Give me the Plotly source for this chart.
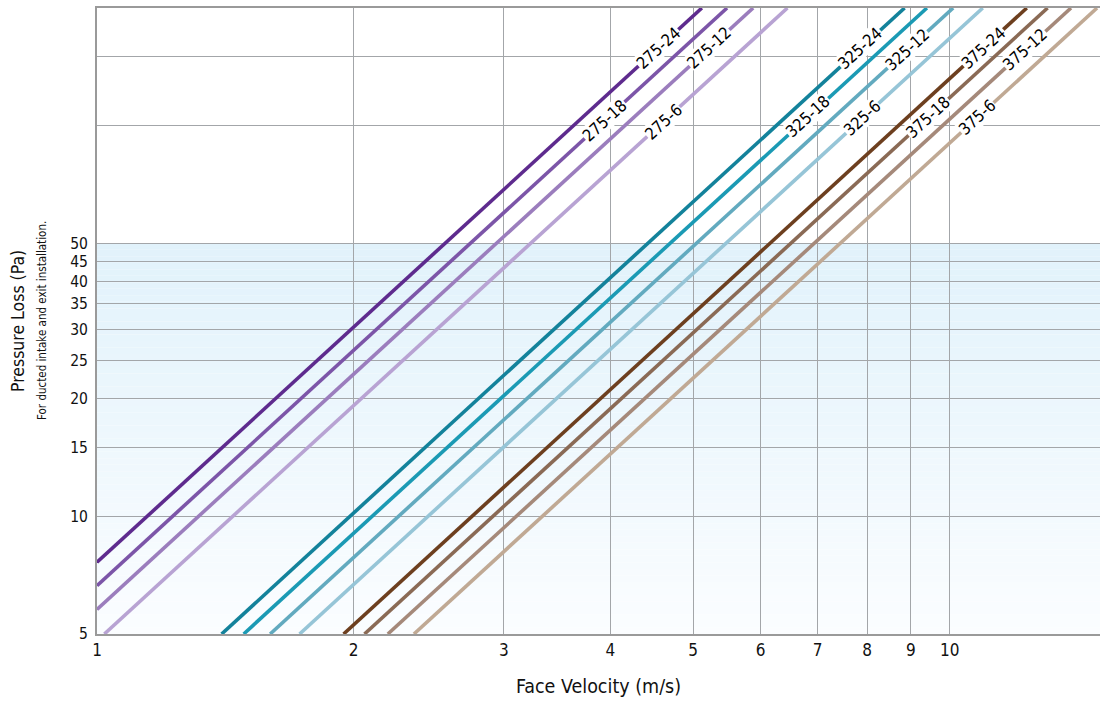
import math
import plotly.graph_objects as go

# ---- data (velocity m/s, pressure Pa) ----
series_names = ["275-24", "275-18", "275-12", "275-6",
                "325-24", "325-18", "325-12", "325-6",
                "375-24", "375-18", "375-12", "375-6"]
v_start = [1.0, 1.0, 1.0, 1.02, 1.40, 1.486, 1.596, 1.728, 1.946, 2.059, 2.193, 2.353]
p_start = [7.63, 6.65, 5.78, 5.0, 5.0, 5.0, 5.0, 5.0, 5.0, 5.0, 5.0, 5.0]
v_end = [5.12, 5.48, 5.88, 6.45, 8.85, 9.40, 10.09, 10.93, 12.31, 13.02, 13.87, 14.88]
p_end = [200, 200, 200, 200, 200, 200, 200, 200, 200, 200, 200, 200]
label_v = [4.55, 3.94, 5.23, 4.61, 7.85, 6.82, 8.93, 7.89, 10.94, 9.43, 12.26, 10.77]

colors = ["#5e2b8e", "#7c55a8", "#9b7dbd", "#b8a3d3",
          "#13829b", "#1b9ab4", "#62aabf", "#96c5d7",
          "#6d3f1f", "#8a6a55", "#a5897a", "#c0a994"]

x_ticks = [1, 2, 3, 4, 5, 6, 7, 8, 9, 10]
y_ticks = [5, 10, 15, 20, 25, 30, 35, 40, 45, 50, 100, 150]
y_ticktext = ["5", "10", "15", "20", "25", "30", "35", "40", "45", "50", "", ""]

x_range = [1, 15]
y_range = [5, 200]
shade_range = [5, 50]

W, H = 1100, 702
ML, MR, MT, MB = 97, 0, 8, 68
FONT = "DejaVu Sans Condensed, Liberation Sans Narrow, Arial Narrow, sans-serif"

def fnt(size, color="#111"):
    return dict(family=FONT, size=size, color=color)

fig = go.Figure()
for i, name in enumerate(series_names):
    fig.add_trace(go.Scatter(
        x=[v_start[i], v_end[i]], y=[p_start[i], p_end[i]],
        mode="lines", line=dict(color=colors[i], width=3.6),
        name=name, showlegend=False, hoverinfo="x+y+name"))

# label angle from axis geometry
pw, ph = W - ML - MR, H - MT - MB
lx0, lx1 = math.log10(x_range[0]), math.log10(x_range[1])
ly0, ly1 = math.log10(y_range[0]), math.log10(y_range[1])

annotations = []
for i, name in enumerate(series_names):
    a = math.log10(v_start[i]); b = math.log10(v_end[i])
    pa = math.log10(p_start[i]); pb = math.log10(p_end[i])
    lv = math.log10(label_v[i])
    t = (lv - a) / (b - a)
    lp = pa + t * (pb - pa)
    slope = (pb - pa) / (b - a)
    ang = math.degrees(math.atan(slope * (ph / (ly1 - ly0)) / (pw / (lx1 - lx0))))
    annotations.append(dict(
        x=lv, y=lp, xref="x", yref="y", text=name, showarrow=False,
        textangle=-ang, font=fnt(16.5, "#000"),
        bgcolor="white", borderpad=0, xanchor="center", yanchor="middle"))

annotations.append(dict(
    x=(18 - ML) / pw, y=0.5, xref="paper", yref="paper",
    text="Pressure Loss (Pa)", showarrow=False, textangle=-90,
    font=fnt(17.5), xanchor="center", yanchor="middle"))
annotations.append(dict(
    x=(42 - ML) / pw, y=0.5, xref="paper", yref="paper",
    text="For ducted intake and exit installation.", showarrow=False, textangle=-90,
    font=fnt(11.5), xanchor="center", yanchor="middle"))

# gradient shading between 5 and 50 Pa
shapes = []
N = 60
s0, s1 = math.log10(shade_range[0]), math.log10(shade_range[1])
top = (0xe1, 0xf2, 0xfb)
bot = (0xfb, 0xfd, 0xff)
for k in range(N):
    f0 = k / N
    f1 = (k + 1) / N
    fm = (f0 + f1) / 2
    c = tuple(round(bot[j] + (top[j] - bot[j]) * fm) for j in range(3))
    shapes.append(dict(
        type="rect", xref="paper", yref="y", x0=0, x1=1,
        y0=10 ** (s0 + (s1 - s0) * f0), y1=10 ** (s0 + (s1 - s0) * f1),
        fillcolor="rgb(%d,%d,%d)" % c, line=dict(width=0), layer="below"))

fig.update_layout(
    width=W, height=H, margin=dict(l=ML, r=MR, t=MT, b=MB),
    plot_bgcolor="white", paper_bgcolor="white",
    font=fnt(17),
    shapes=shapes, annotations=annotations,
    xaxis=dict(type="log", range=[lx0, lx1], tickvals=x_ticks,
               ticktext=[str(v) for v in x_ticks], tickfont=fnt(17),
               showgrid=True, gridcolor="#a3a6a9", gridwidth=1.2,
               showline=True, linecolor="#9a9a9a", linewidth=2, mirror=True,
               ticks="", zeroline=False,
               title=dict(text="Face Velocity (m/s)", font=fnt(19.5), standoff=20)),
    yaxis=dict(type="log", range=[ly0, ly1], tickvals=y_ticks, ticktext=y_ticktext,
               tickfont=fnt(15.5), ticklabelstandoff=4,
               showgrid=True, gridcolor="#a3a6a9", gridwidth=1.2,
               showline=True, linecolor="#9a9a9a", linewidth=2,
               ticks="", ticklen=0, zeroline=False),
)

fig.write_html("out.html", config={"displayModeBar": False},
               post_script="document.body.style.margin='0';document.body.style.padding='0';document.body.style.overflow='hidden';")
